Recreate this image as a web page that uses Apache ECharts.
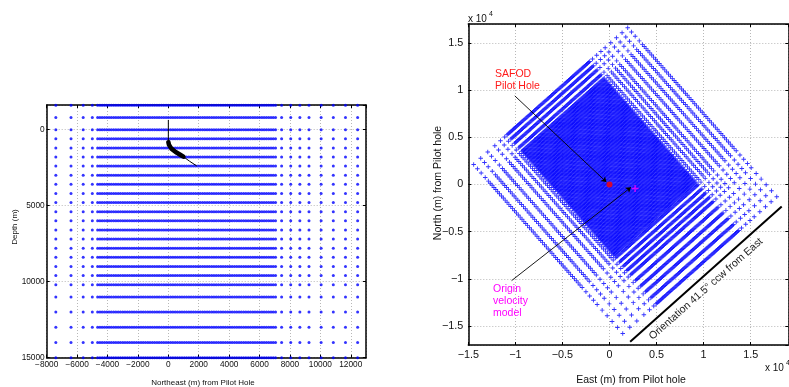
<!DOCTYPE html>
<html>
<head>
<meta charset="utf-8">
<script src="https://cdn.jsdelivr.net/npm/echarts@6/dist/echarts.min.js"></script>
<style>
  html, body { margin: 0; padding: 0; background: #fff; }
  #main { width: 789px; height: 387px; }
</style>
</head>
<body>
<div id="main"></div>
<script>
// model nodes along the northeast axis (m from Pilot Hole)
const uNodes = [-9400, -8400, -7400, -6400, -5600, -5000,
  -4650, -4500, -4350, -4200, -4050, -3900, -3750, -3600, -3450, -3300, -3150, -3000,
  -2850, -2700, -2550, -2400, -2250, -2100, -1950, -1800, -1650, -1500, -1350, -1200,
  -1050, -900, -750, -600, -450, -300, -150, 0, 150, 300, 450, 600, 750, 900, 1050,
  1200, 1350, 1500, 1650, 1800, 1950, 2100, 2250, 2400, 2550, 2700, 2850, 3000, 3150,
  3300, 3450, 3600, 3750, 3900, 4050, 4200, 4350, 4500, 4650, 4800, 4950, 5100, 5250,
  5400, 5550, 5700, 5850, 6000, 6150, 6300, 6450, 6600, 6750, 6900, 7050,
  7450, 8050, 8650, 9250, 10050, 10850, 11650, 12450];

// model nodes across strike (northwest axis)
const vNodes = [-12750, -11900, -11050, -10250, -9450, -8650, -8050, -7450, -6850, -6250,
  -5900, -5600, -5300, -5000, -4700, -4400, -4100, -3800, -3500, -3200, -2900, -2600,
  -2300, -2000, -1700, -1400, -1100, -800, -500, -200, 100, 400, 700, 1000, 1300, 1600,
  1900, 2200, 2500, 2800, 3100, 3400, 3700, 4000, 4300, 4600, 4900, 5200, 5500, 5800,
  6100, 6400, 6700, 7000, 7300, 7600, 7900, 8200, 8500, 8800,
  9300, 9950, 10550, 11150];

// depth nodes (m)
const depthNodes = [-1600, -800, 0, 600, 1200, 1800, 2400, 3000, 3600, 4200, 4800, 5400,
  6000, 6600, 7200, 7800, 8400, 9000, 9600, 10200, 11000, 12000, 13000, 14000, 15000];

const orientationDeg = 41.5;

// pilot hole trajectory in the section
const holeNE = [0, 0, 40, 200, 480, 780, 990, 1400, 1870];
const holeDepth = [-640, 820, 1000, 1250, 1470, 1650, 1780, 2080, 2390];

// map annotations (East, North)
const pilotHole = [0, 0];
const modelOrigin = [2720, -430];
const safodArrow = [[-10060, 9390], [-330, 260]];
const originArrow = [[-10400, -10180], [2280, -300]];
const orientationLine = [[2200, -16650], [18300, -2330]];

const FONT = '"Liberation Sans", Arial, Helvetica, sans-serif';
const BLUE = '#0000ff';
const PLUS = 'path://M4,0H6V4H10V6H6V10H4V6H0V4H4Z';

// build points
const sectionPts = [];
depthNodes.forEach(z => uNodes.forEach(u => sectionPts.push([u, z])));

const th = orientationDeg * Math.PI / 180;
const c = Math.cos(th), s = Math.sin(th);
const mapPts = [];
uNodes.forEach(u => vNodes.forEach(v => mapPts.push([u * c - v * s, u * s + v * c])));

const holeLine = holeNE.map((x, i) => [x, holeDepth[i]]);

const minus = v => (v < 0 ? '\u2212' : '') + Math.abs(v);
const tenK = v => minus(Math.round(v / 1000) / 10);

const dotted = { show: true, lineStyle: { color: '#b8b8b8', type: [1, 2], width: 1 } };
const boxLine = { show: true, onZero: false, lineStyle: { color: '#000', width: 1.5 } };
const tickIn = { show: true, inside: true, length: 3, lineStyle: { color: '#000' } };

function mirror(base, pos) {
  return Object.assign({}, base, {
    position: pos, axisLabel: { show: false }, splitLine: { show: false }, name: ''
  });
}

const x0 = {
  type: 'value', gridIndex: 0, min: -8000, max: 13000, interval: 2000,
  axisLine: boxLine, axisTick: tickIn, splitLine: dotted,
  axisLabel: { fontFamily: FONT, fontSize: 8.3, color: '#111', margin: 3, showMaxLabel: false, formatter: minus }
};
const y0 = {
  type: 'value', gridIndex: 0, min: -1620, max: 15000, inverse: true, splitNumber: 3,
  axisLine: boxLine, axisTick: tickIn, splitLine: dotted,
  axisLabel: { fontFamily: FONT, fontSize: 8.3, color: '#111', margin: 2, showMinLabel: false, formatter: minus }
};
const x1 = {
  type: 'value', gridIndex: 1, min: -15000, max: 19000, interval: 5000,
  axisLine: boxLine, axisTick: tickIn, splitLine: dotted,
  axisLabel: { fontFamily: FONT, fontSize: 10.8, color: '#111', margin: 5, showMaxLabel: false, formatter: tenK }
};
const y1 = {
  type: 'value', gridIndex: 1, min: -17000, max: 17000, splitNumber: 7,
  axisLine: boxLine, axisTick: tickIn, splitLine: dotted,
  axisLabel: { fontFamily: FONT, fontSize: 10.8, color: '#111', margin: 5,
    showMinLabel: false, showMaxLabel: false, formatter: tenK }
};

function txt(x, y, text, size, opts) {
  return Object.assign({
    type: 'text', x: x, y: y, silent: true, z: 100,
    style: Object.assign({ text: text, fontFamily: FONT, fontSize: size, fill: '#111',
      align: 'center', verticalAlign: 'middle' }, (opts && opts.style) || {})
  }, opts && opts.rotation !== undefined ? { rotation: opts.rotation } : {});
}

const chart = echarts.init(document.getElementById('main'), null, { renderer: 'canvas' });
chart.setOption({
  animation: false,
  backgroundColor: '#fff',
  grid: [
    { left: 46.7, top: 105, width: 319.3, height: 252.7 },
    { left: 468.3, top: 24, width: 320, height: 321 }
  ],
  xAxis: [x0, mirror(x0, 'top'), x1, mirror(x1, 'top')],
  yAxis: [y0, mirror(y0, 'right'), y1, mirror(y1, 'right')],
  series: [
    {
      type: 'scatter', xAxisIndex: 0, yAxisIndex: 0, data: sectionPts,
      symbol: 'circle', symbolSize: 3, itemStyle: { color: BLUE },
      silent: true, progressive: 0, large: false
    },
    {
      type: 'line', xAxisIndex: 0, yAxisIndex: 0, data: holeLine, showSymbol: false,
      lineStyle: { color: '#000', width: 1 }, silent: true, z: 5
    },
    {
      type: 'line', xAxisIndex: 0, yAxisIndex: 0, data: holeLine.slice(1, 7), showSymbol: false,
      lineStyle: { color: '#000', width: 4.5, cap: 'round' }, silent: true, z: 5
    },
    {
      type: 'scatter', xAxisIndex: 2, yAxisIndex: 2, data: mapPts,
      symbol: PLUS, symbolSize: 4.5, itemStyle: { color: BLUE },
      silent: true, progressive: 0, large: false
    },
    {
      type: 'lines', coordinateSystem: 'cartesian2d', xAxisIndex: 2, yAxisIndex: 2,
      data: [{ coords: safodArrow }, { coords: originArrow }],
      symbol: ['none', 'arrow'], symbolSize: 5,
      lineStyle: { color: '#000', width: 0.9, opacity: 1 }, silent: true, z: 6
    },
    {
      type: 'lines', coordinateSystem: 'cartesian2d', xAxisIndex: 2, yAxisIndex: 2,
      data: [{ coords: orientationLine }], symbol: 'none',
      lineStyle: { color: '#000', width: 2, opacity: 1 }, silent: true, z: 6
    },
    {
      type: 'scatter', xAxisIndex: 2, yAxisIndex: 2, data: [pilotHole],
      symbol: 'circle', symbolSize: 6, itemStyle: { color: '#ff0000' }, silent: true, z: 7
    },
    {
      type: 'scatter', xAxisIndex: 2, yAxisIndex: 2, data: [modelOrigin],
      symbol: PLUS, symbolSize: 7, itemStyle: { color: '#ff00ff' }, silent: true, z: 7
    }
  ],
  graphic: [
    txt(15, 227, 'Depth (m)', 8, { rotation: Math.PI / 2 }),
    txt(203, 383, 'Northeast (m) from Pilot Hole', 8),
    txt(438, 183, 'North (m) from Pilot hole', 10.5, { rotation: Math.PI / 2 }),
    txt(631, 380, 'East (m) from Pilot hole', 10.5),
    txt(468, 19.5, 'x 10', 10, { style: { align: 'left' } }),
    txt(489, 14, '4', 7, { style: { align: 'left' } }),
    txt(765, 368.5, 'x 10', 10, { style: { align: 'left' } }),
    txt(786, 363, '4', 7, { style: { align: 'left' } }),
    txt(495, 68, 'SAFOD\nPilot Hole', 10.5,
      { style: { align: 'left', verticalAlign: 'top', fill: '#ff1a1a', lineHeight: 12 } }),
    txt(493, 283, 'Origin\nvelocity\nmodel', 10.5,
      { style: { align: 'left', verticalAlign: 'top', fill: '#ff00ff', lineHeight: 12 } }),
    txt(706, 289, 'Orientation 41.5\u00b0 ccw from East', 10.5,
      { rotation: th, style: { fill: '#222' } })
  ]
});
</script>
</body>
</html>
